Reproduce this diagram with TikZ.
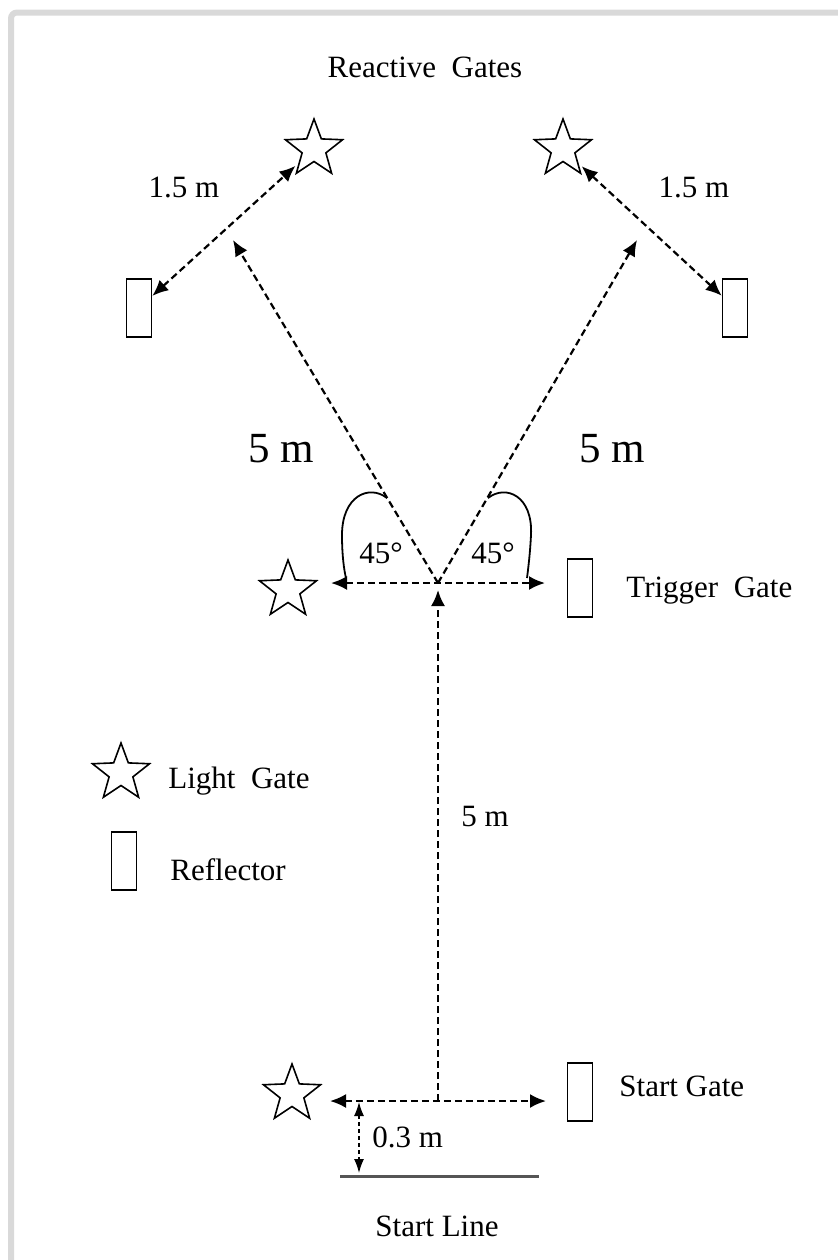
\documentclass[tikz,border=0pt]{standalone}
\usepackage{fontspec}
\setmainfont{Liberation Serif}
\usetikzlibrary{arrows.meta}
\usetikzlibrary{shapes.geometric}
\definecolor{framegray}{HTML}{D9D9D9}
\definecolor{linegray}{HTML}{555555}
\tikzstyle{gate}=[star,star points=5,star point ratio=2.4,draw=black,line width=0.8pt,minimum size=30pt,inner sep=0pt]
\tikzstyle{refl}=[rectangle,draw=black,line width=0.8pt,minimum width=12.5pt,minimum height=29pt,inner sep=0pt]
\tikzstyle{arr}=[-{Latex[length=8pt,width=7pt]},draw=black,line width=1.1pt,dash pattern=on 3.5pt off 2pt]
\tikzstyle{darr}=[{Latex[length=8pt,width=7pt]}-{Latex[length=8pt,width=7pt]},draw=black,line width=1.1pt,dash pattern=on 3.5pt off 2pt]
\tikzstyle{sarr}=[{Latex[length=7pt,width=5pt]}-{Latex[length=7pt,width=5pt]},draw=black,line width=0.7pt,dash pattern=on 2pt off 1.5pt]
\tikzstyle{lbl}=[font=\fontsize{15.5}{18}\selectfont,inner sep=0pt,anchor=base]
\tikzstyle{big}=[font=\fontsize{21.5}{25}\selectfont,inner sep=0pt,anchor=base]

\begin{document}
\begin{tikzpicture}[x=0.5pt,y=-0.5pt]
  \useasboundingbox (0,0) rectangle (838,1260);
  \draw[line width=3pt,color=framegray,rounded corners=3pt] (11,1260) -- (11,12.5) -- (838,12.5);

  % reactive gates
  \node[lbl] (title) at (425,77) {Reactive~~Gates};
  \node[gate] (gRL) at (314,149) {};
  \node[gate] (gRR) at (563,149) {};
  \node[refl] (rRL) at (139,308) {};
  \node[refl] (rRR) at (735,308) {};
  \draw[darr,shorten >=2pt] (rRL) -- (gRL);
  \draw[darr,shorten <=2pt] (gRR) -- (rRR);
  \node[lbl] (dRL) at (184,197) {1.5 m};
  \node[lbl] (dRR) at (694,197) {1.5 m};

  % trigger gate
  \coordinate (trg) at (438,583);
  \coordinate (tipL) at (233,240);
  \coordinate (tipR) at (637,240);
  \draw[arr] (trg) -- (tipL);
  \draw[arr] (trg) -- (tipR);
  \node[big] (lenL) at (281,462) {5 m};
  \node[big] (lenR) at (612,462) {5 m};
  \node[gate] (gT) at (288,590) {};
  \node[refl] (rT) at (580,588) {};
  \coordinate (tgL) at (331,583);
  \coordinate (tgR) at (545,583);
  \draw[darr] (tgL) -- (tgR);
  \draw[line width=0.9pt] (387,498) .. controls (369,484) and (342,496) .. (342,535) .. controls (342,555) and (344,570) .. (346,578);
  \draw[line width=0.9pt] (488,498) .. controls (506,484) and (533,496) .. (531,535) .. controls (530,555) and (528,570) .. (527,578);
  \node[lbl] (angL) at (381,563) {45°};
  \node[lbl] (angR) at (493,563) {45°};
  \node[lbl,anchor=base west] (trgT) at (626,597) {Trigger~~Gate};

  % run up
  \coordinate (sta) at (438,1101);
  \draw[arr,shorten >=3.5pt] (sta) -- (trg);
  \node[lbl] (lenM) at (485,826) {5 m};

  % legend
  \node[gate] (kStar) at (121,773) {};
  \node[lbl,anchor=base west] (kStarT) at (168,788) {Light~~Gate};
  \node[refl] (kRefl) at (124,861) {};
  \node[lbl,anchor=base west] (kReflT) at (170,880) {Reflector};

  % start gate
  \node[gate] (gS) at (292,1094) {};
  \node[refl] (rS) at (580,1092) {};
  \coordinate (stL) at (330,1101);
  \coordinate (stR) at (546,1101);
  \draw[darr] (stL) -- (stR);
  \node[lbl,anchor=base west] (staT) at (619,1096) {Start Gate};
  \coordinate (offT) at (359,1102);
  \coordinate (offB) at (359,1173);
  \draw[sarr] (offT) -- (offB);
  \node[lbl,anchor=base west] (offV) at (372,1147) {0.3 m};
  \coordinate (slL) at (340,1176);
  \coordinate (slR) at (539,1176);
  \draw[line width=1.5pt,color=linegray] (slL) -- (slR);
  \node[lbl] (slT) at (437,1236) {Start Line};
\end{tikzpicture}
\end{document}
